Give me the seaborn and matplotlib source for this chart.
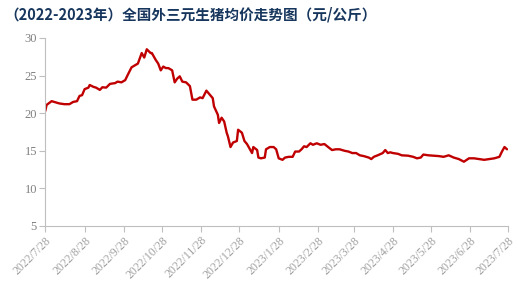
import matplotlib
matplotlib.use("Agg")
import matplotlib.pyplot as plt
import seaborn as sns
import pandas as pd

dates = [
    "2022-07-28", "2022-07-29", "2022-08-02", "2022-08-04", "2022-08-08", "2022-08-12",
    "2022-08-16", "2022-08-19", "2022-08-22", "2022-08-24", "2022-08-26", "2022-08-28",
    "2022-08-31", "2022-09-01", "2022-09-04", "2022-09-06", "2022-09-09", "2022-09-11",
    "2022-09-14", "2022-09-17", "2022-09-21", "2022-09-23", "2022-09-26", "2022-09-29",
    "2022-10-01", "2022-10-04", "2022-10-07", "2022-10-09", "2022-10-12", "2022-10-14",
    "2022-10-16", "2022-10-19", "2022-10-20", "2022-10-23", "2022-10-25", "2022-10-27",
    "2022-10-29", "2022-10-31", "2022-11-02", "2022-11-05", "2022-11-07", "2022-11-09",
    "2022-11-11", "2022-11-13", "2022-11-16", "2022-11-19", "2022-11-21", "2022-11-24",
    "2022-11-27", "2022-11-29", "2022-12-02", "2022-12-04", "2022-12-07", "2022-12-08",
    "2022-12-11", "2022-12-12", "2022-12-14", "2022-12-16", "2022-12-18", "2022-12-19",
    "2022-12-21", "2022-12-23", "2022-12-26", "2022-12-27", "2022-12-30", "2023-01-01",
    "2023-01-03", "2023-01-05", "2023-01-07", "2023-01-08", "2023-01-11", "2023-01-12",
    "2023-01-14", "2023-01-17", "2023-01-18", "2023-01-21", "2023-01-24", "2023-01-26",
    "2023-01-28", "2023-01-31", "2023-02-02", "2023-02-05", "2023-02-08", "2023-02-10",
    "2023-02-13", "2023-02-15", "2023-02-17", "2023-02-19", "2023-02-22", "2023-02-24",
    "2023-02-27", "2023-03-02", "2023-03-05", "2023-03-08", "2023-03-11", "2023-03-14",
    "2023-03-17", "2023-03-21", "2023-03-24", "2023-03-27", "2023-03-30", "2023-04-02",
    "2023-04-05", "2023-04-09", "2023-04-11", "2023-04-13", "2023-04-16", "2023-04-20",
    "2023-04-22", "2023-04-24", "2023-04-26", "2023-04-28", "2023-05-02", "2023-05-05",
    "2023-05-10", "2023-05-14", "2023-05-17", "2023-05-20", "2023-05-22", "2023-05-26",
    "2023-05-30", "2023-06-03", "2023-06-07", "2023-06-11", "2023-06-15", "2023-06-19",
    "2023-06-23", "2023-06-27", "2023-07-01", "2023-07-05", "2023-07-09", "2023-07-13",
    "2023-07-17", "2023-07-21", "2023-07-23", "2023-07-25", "2023-07-27",
]
prices = [
    20.3, 21.1, 21.6, 21.5, 21.3, 21.2,
    21.2, 21.5, 21.6, 22.3, 22.4, 23.2,
    23.4, 23.75, 23.5, 23.4, 23.1, 23.45,
    23.4, 23.9, 24.0, 24.2, 24.1, 24.4,
    25.1, 26.1, 26.4, 26.6, 28.0, 27.4,
    28.5, 28.0, 28.0, 27.1, 26.6, 25.7,
    26.2, 26.0, 26.0, 25.7, 24.1, 24.6,
    24.9, 24.2, 24.1, 23.6, 21.8, 21.8,
    22.1, 22.0, 23.0, 22.6, 22.0, 20.9,
    19.8, 18.7, 19.4, 18.9, 17.4, 16.9,
    15.5, 16.1, 16.3, 17.8, 17.4, 16.3,
    15.9, 15.3, 14.7, 15.5, 15.1, 14.1,
    14.0, 14.1, 15.2, 15.5, 15.5, 15.2,
    14.0, 13.8, 14.1, 14.2, 14.2, 14.9,
    14.9, 15.2, 15.6, 15.5, 16.0, 15.8,
    16.0, 15.8, 15.9, 15.5, 15.1, 15.2,
    15.2, 15.0, 14.9, 14.7, 14.7, 14.4,
    14.3, 14.1, 13.9, 14.2, 14.4, 14.7,
    15.1, 14.7, 14.8, 14.7, 14.6, 14.4,
    14.35, 14.2, 14.0, 14.1, 14.5, 14.4,
    14.35, 14.3, 14.2, 14.4, 14.1, 13.9,
    13.55, 14.0, 14.0, 13.9, 13.8, 13.9,
    14.0, 14.2, 14.9, 15.5, 15.2,
]
tick_dates = ["2022-07-28", "2022-08-28", "2022-09-28", "2022-10-28", "2022-11-28",
              "2022-12-28", "2023-01-28", "2023-02-28", "2023-03-28", "2023-04-28",
              "2023-05-28", "2023-06-28", "2023-07-28"]
tick_labels = ["2022/7/28", "2022/8/28", "2022/9/28", "2022/10/28", "2022/11/28",
               "2022/12/28", "2023/1/28", "2023/2/28", "2023/3/28", "2023/4/28",
               "2023/5/28", "2023/6/28", "2023/7/28"]
y_ticks = [5, 10, 15, 20, 25, 30]
title = "（2022-2023年）全国外三元生猪均价走势图（元/公斤）"

sns.set_style("white")
plt.rcParams['font.family'] = ['Noto Sans CJK SC', 'DejaVu Sans']

df = pd.DataFrame({"date": pd.to_datetime(dates), "price": prices})

fig = plt.figure(figsize=(5.18, 2.95), dpi=100)
ax = fig.add_axes([45.3 / 518, 1 - 226 / 295, 463 / 518, 188 / 295])
sns.lineplot(data=df, x="date", y="price", ax=ax, color="#c00000", linewidth=1.7)

ax.set_xlim(pd.Timestamp("2022-07-28"), pd.Timestamp("2023-07-28"))
ax.set_ylim(5, 30)
ax.set_yticks(y_ticks)
ax.set_yticklabels([str(v) for v in y_ticks], family="Liberation Serif", fontsize=9, color="#808080")
ax.set_xticks(pd.to_datetime(tick_dates))
ax.set_xticklabels(tick_labels, rotation=45, ha="right", rotation_mode="anchor",
                   family="Liberation Serif", fontsize=8.5, color="#a0a0a0")
ax.set_xlabel("")
ax.set_ylabel("")
for s in ["top", "right"]:
    ax.spines[s].set_visible(False)
for s in ["left", "bottom"]:
    ax.spines[s].set_color("#bfbfbf")
    ax.spines[s].set_linewidth(0.8)
ax.tick_params(axis="both", which="major", length=4, width=0.8, color="#bfbfbf",
               direction="out", left=True, bottom=True, pad=2)
ax.grid(False)

fig.text(4 / 518, 1 - 15 / 295, title, fontsize=10.5, fontweight="bold",
         color="#17365d", ha="left", va="center")

fig.savefig("out.png", dpi=100)
